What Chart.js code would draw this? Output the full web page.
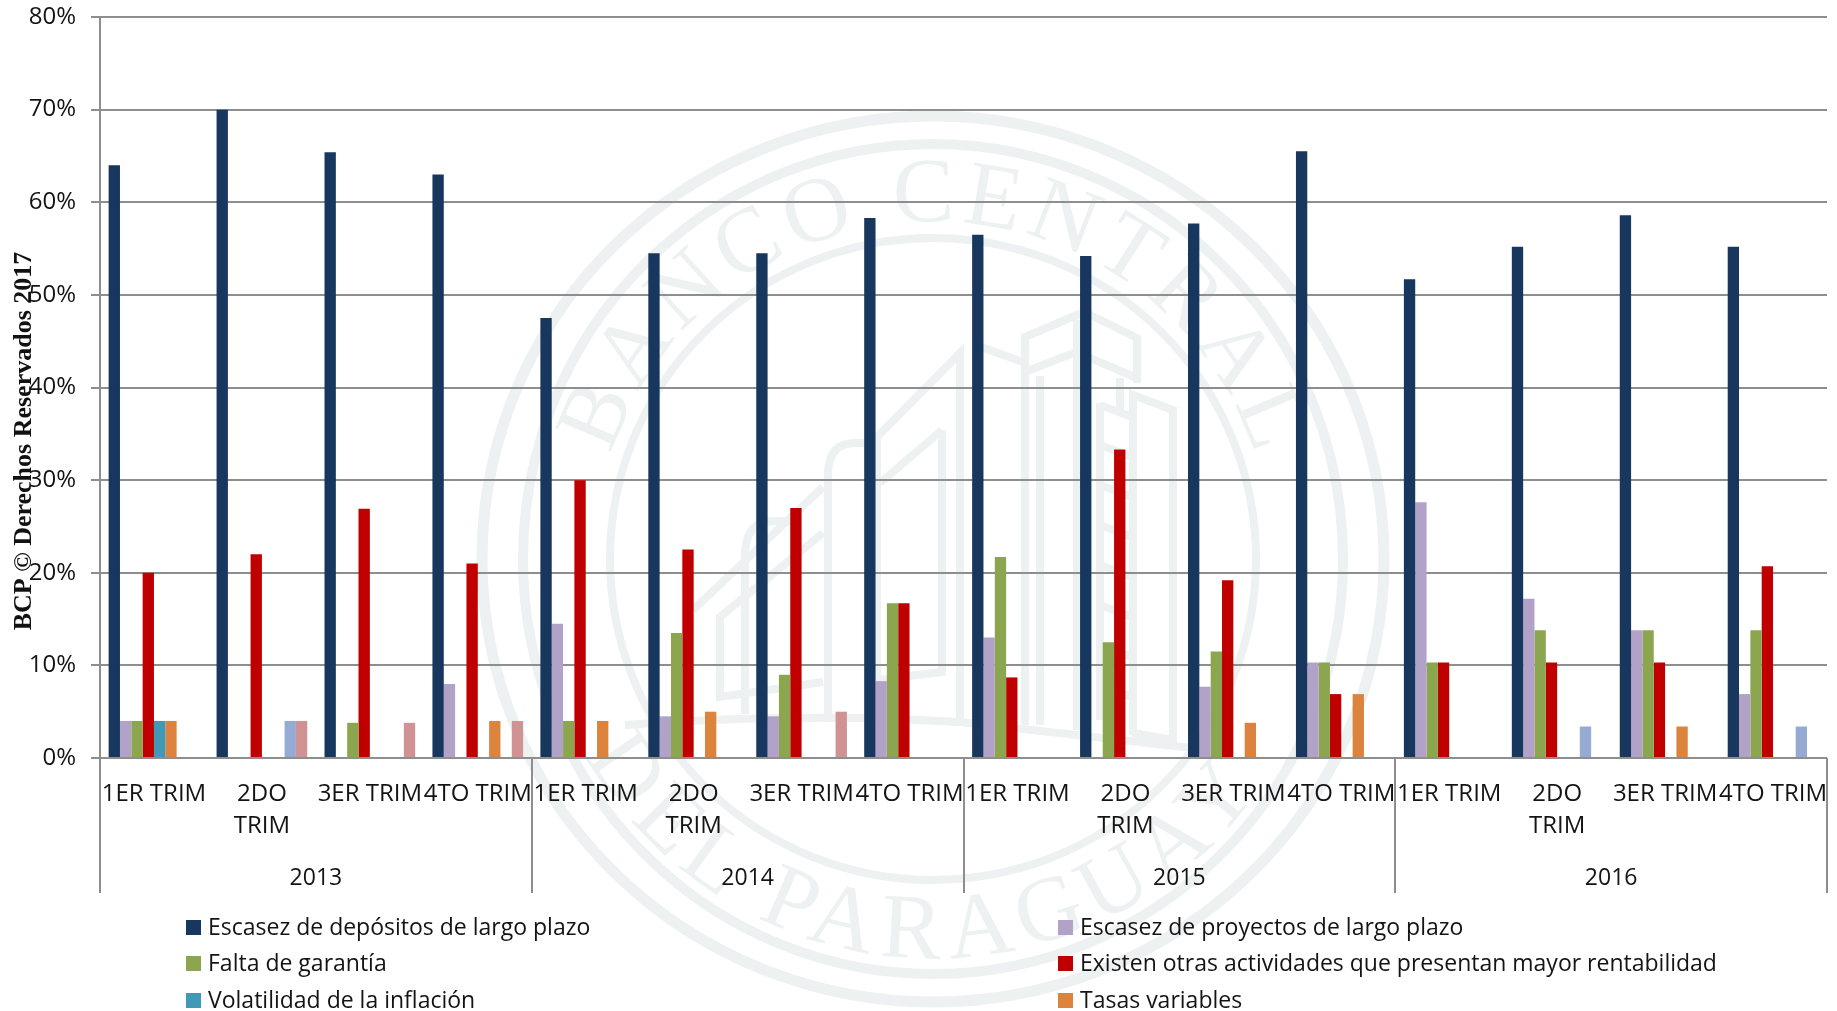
<!DOCTYPE html>
<html>
<head>
<meta charset="utf-8">
<script src="https://cdn.jsdelivr.net/npm/chart.js@4"></script>
<style>
html,body{margin:0;padding:0;background:#fff;width:1837px;height:1011px;overflow:hidden}
#seal{position:absolute;left:0;top:0}
#c{position:absolute;left:0;top:0}
</style>
</head>
<body>
<svg id="seal" width="1837" height="1011" viewBox="0 0 1837 1011" xmlns="http://www.w3.org/2000/svg">
  <defs>
    <path id="arcTop" d="M 606 471 A 339 339 0 0 1 1260 471"/>
    <path id="arcBot" d="M 553 683 A 400 400 0 0 0 1313 683"/>
  </defs>
  <g fill="none" stroke="#edf1f1">
    <ellipse cx="933" cy="559" rx="451" ry="443" stroke-width="11"/>
    <ellipse cx="933" cy="559" rx="410" ry="415" stroke-width="10"/>
    <ellipse cx="933" cy="559" rx="323" ry="321" stroke-width="8"/>
    <g stroke-width="8" stroke-linejoin="miter">
      <path d="M1025 725V337L1084 312L1137 338V383"/>
      <path d="M1025 372L1076 352L1137 378"/>
      <path d="M1077 730V320M1040 725V376"/>
      <path d="M981 347L1023 362"/>
      <path d="M960 720V353L877 437V716"/>
      <path d="M942 430L880 483M942 430V672L877 680"/>
      <path d="M875 443H855Q828 443 828 475V714"/>
      <path d="M823 487L693 610"/>
      <path d="M823 533L720 617V697L823 682"/>
      <path d="M800 521H775Q745 521 745 555V714"/>
      <path d="M625 725Q800 712 960 722L1210 750"/>
      <path d="M1133 735V395L1173 410V740L1133 733"/>
      <path d="M1120 378V413"/>
      <path d="M1100 403V720"/>
      <path d="M1100 405L1132 417M1100 445L1132 457M1100 485L1132 497M1100 525L1132 537M1100 565L1132 577M1100 605L1132 617M1100 645L1132 657M1100 685L1132 697"/>
    </g>
  </g>
  <g fill="#edf1f1" font-family="'Liberation Serif'" font-size="92">
    <text><textPath href="#arcTop" startOffset="50%" text-anchor="middle" textLength="850">BANCO CENTRAL</textPath></text>
    <text><textPath href="#arcBot" startOffset="48%" text-anchor="middle" textLength="800">DEL PARAGUAY</textPath></text>
  </g>
</svg>
<canvas id="c" width="1837" height="1011"></canvas>
<script>
const quarters = ["1ER TRIM", ["2DO","TRIM"], "3ER TRIM", "4TO TRIM",
                  "1ER TRIM", ["2DO","TRIM"], "3ER TRIM", "4TO TRIM",
                  "1ER TRIM", ["2DO","TRIM"], "3ER TRIM", "4TO TRIM",
                  "1ER TRIM", ["2DO","TRIM"], "3ER TRIM", "4TO TRIM"];
const years = ["2013","2014","2015","2016"];

const depositos  = [64,70,65.4,63, 47.5,54.5,54.5,58.3, 56.5,54.2,57.7,65.5, 51.7,55.2,58.6,55.2];
const proyectos  = [4,null,null,8, 14.5,4.5,4.5,8.3, 13,null,7.7,10.3, 27.6,17.2,13.8,6.9];
const garantia   = [4,null,3.8,null, 4,13.5,9,16.7, 21.7,12.5,11.5,10.3, 10.3,13.8,13.8,13.8];
const actividades= [20,22,26.9,21, 30,22.5,27,16.7, 8.7,33.3,19.2,6.9, 10.3,10.3,10.3,20.7];
const inflacion  = [4,null,null,null, null,null,null,null, null,null,null,null, null,null,null,null];
const tasas      = [4,null,null,4, 4,5,null,null, null,null,3.8,6.9, null,null,3.4,null];
const serie7     = [null,4,null,null, null,null,null,null, null,null,null,null, null,3.4,null,3.4];
const serie8     = [null,4,3.8,4, null,null,5,null, null,null,null,null, null,null,null,null];

const seriesNames = ["Escasez de depósitos de largo plazo","Escasez de proyectos de largo plazo","Falta de garantía",
  "Existen otras actividades que presentan mayor rentabilidad","Volatilidad de la inflación","Tasas variables","",""];
const seriesValues = [depositos,proyectos,garantia,actividades,inflacion,tasas,serie7,serie8];
const seriesColors = ["#17375e","#b3a2c7","#8ca64f","#c00000","#4299b5","#dc843e","#95abd3","#d09292"];
const credit = "BCP © Derechos Reservados 2017";

const AXIS = "#8e8e8e", TXT = "#141414", FONT = "'Open Sans'";

const extras = {
  id:"extras",
  afterDraw(chart){
    const {ctx,scales:{x,y}} = chart;
    const step = (x.right-x.left)/quarters.length;
    ctx.save();
    ctx.strokeStyle = AXIS; ctx.lineWidth = 2;
    for(let i=0;i<=quarters.length;i+=4){
      const px = Math.round(x.left+i*step);
      ctx.beginPath(); ctx.moveTo(px,y.bottom); ctx.lineTo(px,893); ctx.stroke();
    }
    const cols=[186,1058], rows=[928,964,1001];
    ctx.font = "23px "+FONT; ctx.textBaseline="middle"; ctx.textAlign="left";
    seriesNames.slice(0,6).forEach((n,i)=>{
      const cx=cols[i%2], cy=rows[Math.floor(i/2)];
      ctx.fillStyle=seriesColors[i]; ctx.fillRect(cx,cy-8,15,15);
      ctx.fillStyle=TXT; ctx.fillText(n,cx+22,cy);
    });
    ctx.translate(31,441); ctx.rotate(-Math.PI/2);
    ctx.font="bold 26px 'Liberation Serif'"; ctx.textAlign="center"; ctx.textBaseline="alphabetic"; ctx.fillStyle="#111";
    ctx.fillText(credit,0,0);
    ctx.restore();
  }
};

new Chart(document.getElementById("c"),{
  type:"bar",
  data:{labels:quarters,datasets:seriesValues.map((v,i)=>({
    label:seriesNames[i],data:v,backgroundColor:seriesColors[i],borderWidth:0,
    barPercentage:1,categoryPercentage:0.84,xAxisID:"x",yAxisID:"y"}))},
  options:{
    responsive:false,animation:false,
    layout:{padding:{top:17,bottom:118,left:0,right:10}},
    plugins:{legend:{display:false},title:{display:false},tooltip:{enabled:false}},
    scales:{
      x:{position:"bottom",grid:{display:false},border:{display:false},
         ticks:{autoSkip:false,maxRotation:0,minRotation:0,color:TXT,padding:12,
                font:{family:FONT,size:24,lineHeight:1.33}},
         afterFit(s){s.height=90;s.paddingLeft=0;s.paddingRight=0;}},
      x2:{type:"category",labels:years,position:"bottom",offset:true,
          grid:{display:false},border:{display:false},
          ticks:{color:TXT,padding:9,autoSkip:false,maxRotation:0,font:{family:FONT,size:23}},
          afterFit(s){s.height=45;s.paddingLeft=0;s.paddingRight=0;}},
      y:{min:0,max:80,
         grid:{color:AXIS,lineWidth:2,tickLength:9},
         border:{display:true,color:AXIS,width:2},
         ticks:{stepSize:10,color:TXT,padding:15,font:{family:FONT,size:24},callback:v=>v+"%"},
         afterFit(s){s.width=100;s.paddingTop=0;s.paddingBottom=0;}}
    }
  },
  plugins:[extras]
});
</script>
</body>
</html>
